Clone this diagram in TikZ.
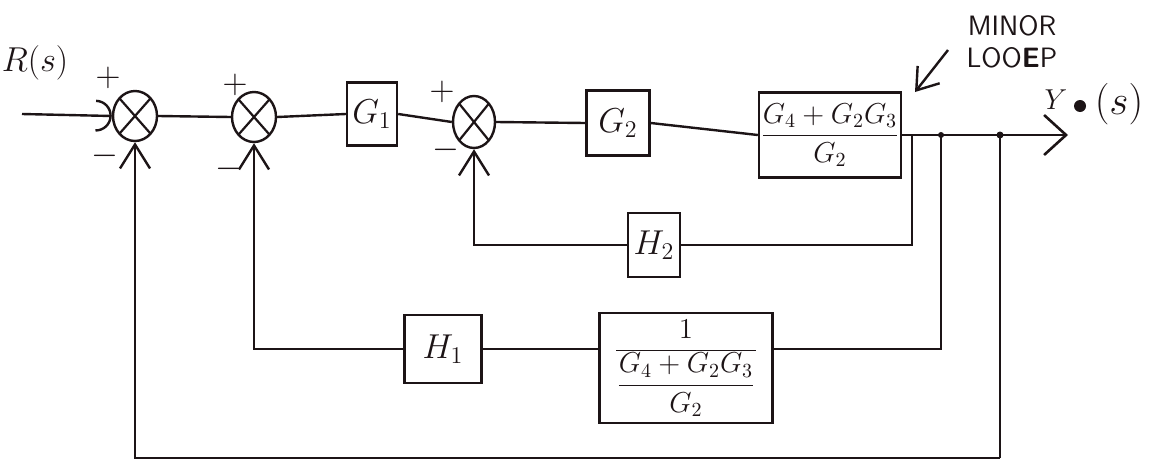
\documentclass[tikz,border=0pt]{standalone}
\usetikzlibrary{arrows.meta,shapes.geometric,calc}
\definecolor{ink}{HTML}{1C1416}
\begin{document}
\begin{tikzpicture}[x=0.5pt,y=-0.5pt,
  line width=1.2pt, draw=ink, color=ink,
  sumnode/.style={ellipse, draw, minimum width=22pt, minimum height=25pt, inner sep=0pt,
    path picture={\draw[line width=1.1pt]
      (path picture bounding box.north west) -- (path picture bounding box.south east)
      (path picture bounding box.north east) -- (path picture bounding box.south west);}},
  blockbox/.style={draw, rectangle, inner sep=0pt, font=\fontsize{17}{20}\selectfont},
  fracbox/.style={blockbox, font=\fontsize{14}{16}\selectfont},
  signlbl/.style={font=\fontsize{16}{18}\selectfont, inner sep=0pt},
  fb/.style={-{Straight Barb[length=12pt,width=15pt,line width=1.2pt]}},
  inarrow/.style={-{Arc Barb[length=8pt,width=16pt,line width=1.2pt]}},
  outarrow/.style={-{Straight Barb[length=11pt,width=20pt,line width=1.3pt]}},
  note/.style={-{Straight Barb[length=10pt,width=14pt,line width=1.2pt]}}]

\fill[white] (0,0) rectangle (1154,466);
\useasboundingbox (0,0) rectangle (1154,466);

% forward path
\node[sumnode] (S1) at (135,116) {};
\node[sumnode] (S2) at (254,117) {};
\node[blockbox, minimum width=25pt, minimum height=31.5pt] (G1) at (372,114) {$G_1$};
\node[sumnode, minimum width=21pt, minimum height=26pt] (S3) at (474,122) {};
\node[blockbox, minimum width=31.5pt, minimum height=32.5pt] (G2) at (618,123) {$G_2$};
\node[fracbox, minimum width=71pt, minimum height=42.5pt] (B1) at (830,135)
  {$\displaystyle\frac{G_4+G_2G_3}{G_2}$};

% feedback blocks
\node[blockbox, minimum width=26pt, minimum height=32pt] (H2) at (654,245) {$H_2$};
\node[blockbox, minimum width=38.5pt, minimum height=34pt] (H1) at (443,349) {$H_1$};
\node[fracbox, minimum width=86.5pt, minimum height=55pt] (B2) at (686,368)
  {$\displaystyle\frac{1}{\displaystyle\frac{G_4+G_2G_3}{G_2}}$};

% terminals and branch points
\coordinate (in) at (22,114);
\coordinate (out) at (1068,135);
\coordinate (j1) at (912,135);
\coordinate (j2) at (941,135);
\coordinate (j3) at (1000,135);
\coordinate (b3) at (1000,458);

% forward connections
\draw[inarrow] (in) -- (S1.west);
\draw (S1.east) -- (S2.west);
\draw (S2.east) -- (G1.west);
\draw (G1.east) -- (S3.west);
\draw (S3.east) -- (G2.west);
\draw (G2.east) -- (B1.west);
\draw[outarrow] (B1.east) -- (out);
\fill (j2) circle (3);
\fill (j3) circle (3.5);

% minor loop through H2
\draw (j1) |- (H2.east);
\draw[fb] (H2.west) -| (S3.south);

% loop through H1
\draw (j2) |- (B2.east |- H1.east);
\draw (B2.west |- H1.east) -- (H1.east);
\draw[fb] (H1.west) -| (S2.south);

% outer unity loop
\draw (j3) -- (b3);
\draw[fb] (b3) -| (S1.south);

% signs
\node[signlbl] (p1) at (108,78) {$+$};
\node[signlbl] (m1) at (105,156) {$-$};
\node[signlbl] (p2) at (235,85) {$+$};
\node[signlbl] (m2) at (229,169) {$-$};
\node[signlbl] (p3) at (442,92) {$+$};
\node[signlbl] (m3) at (446,150) {$-$};

% input / output labels
\node[font=\fontsize{16}{18}\selectfont, inner sep=0pt] (Rlab) at (35,63) {$R(s)$};
\node[font=\fontsize{14}{16}\selectfont, inner sep=0pt] (Ylab) at (1056,100) {$Y$};
\fill (1080,106) circle (6);
\node[font=\fontsize{22}{24}\selectfont, inner sep=0pt] (Slab) at (1119,104) {$(s)$};

% annotation
\node[font=\sffamily\fontsize{14}{16}\selectfont, align=center, inner sep=0pt] (minor) at (1012,42)
  {MINOR\\LOO\textbf{E}P};
\coordinate (ma) at (948,50);
\coordinate (mb) at (915,92);
\draw[note] (ma) -- (mb);
\end{tikzpicture}
\end{document}
